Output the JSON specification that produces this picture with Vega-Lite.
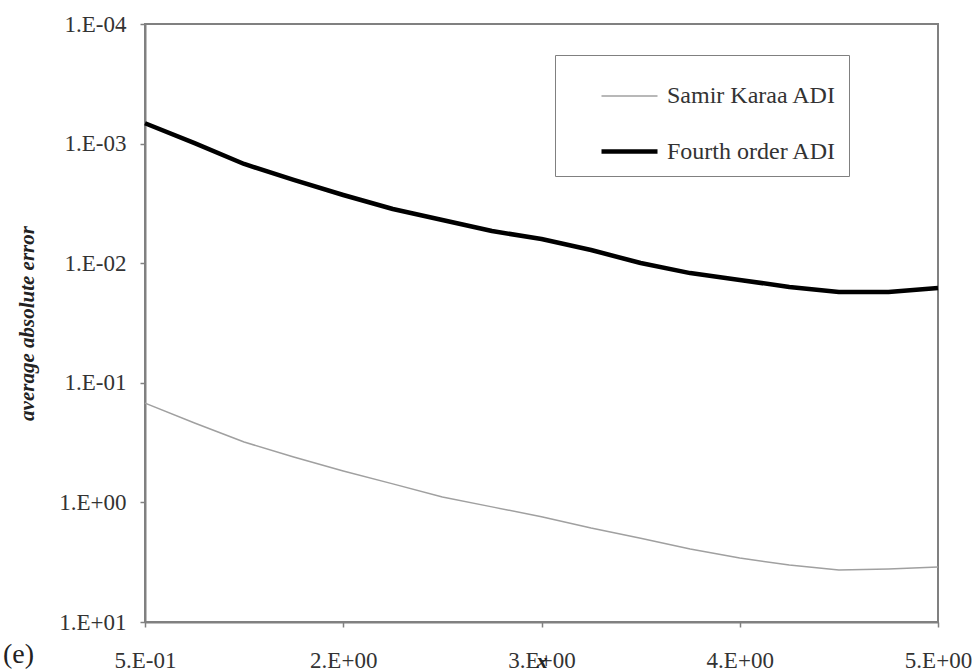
{
  "$schema": "https://vega.github.io/schema/vega-lite/v6.json",
  "width": 793,
  "height": 598,
  "autosize": {"type": "none"},
  "padding": {"left": 145, "top": 24, "right": 41, "bottom": 49},
  "background": "white",
  "title": {
    "text": "(e)",
    "orient": "bottom",
    "anchor": "start",
    "frame": "group",
    "dx": -142,
    "dy": -35,
    "font": "Times New Roman, Liberation Serif, serif",
    "fontSize": 28,
    "fontWeight": "normal",
    "color": "#222"
  },
  "config": {
    "font": "Times New Roman, Liberation Serif, serif",
    "view": {"stroke": "#808080", "strokeWidth": 2},
    "axis": {
      "domainColor": "#808080",
      "domainWidth": 2,
      "tickColor": "#808080",
      "tickSize": 5,
      "tickWidth": 1.5,
      "grid": false,
      "labelFont": "Times New Roman, Liberation Serif, serif",
      "labelFontSize": 23,
      "labelColor": "#333",
      "titleFont": "Times New Roman, Liberation Serif, serif",
      "titleColor": "#222"
    },
    "legend": {"labelFont": "Times New Roman, Liberation Serif, serif", "labelLimit": 400}
  },
  "data": {
    "values": [
      {"x": 0.5, "series": "Samir Karaa ADI", "error": 0.148},
      {"x": 0.78125, "series": "Samir Karaa ADI", "error": 0.217},
      {"x": 1.0625, "series": "Samir Karaa ADI", "error": 0.313},
      {"x": 1.34375, "series": "Samir Karaa ADI", "error": 0.417},
      {"x": 1.625, "series": "Samir Karaa ADI", "error": 0.546},
      {"x": 1.90625, "series": "Samir Karaa ADI", "error": 0.70},
      {"x": 2.1875, "series": "Samir Karaa ADI", "error": 0.90},
      {"x": 2.46875, "series": "Samir Karaa ADI", "error": 1.09},
      {"x": 2.75, "series": "Samir Karaa ADI", "error": 1.32},
      {"x": 3.03125, "series": "Samir Karaa ADI", "error": 1.64},
      {"x": 3.3125, "series": "Samir Karaa ADI", "error": 1.99},
      {"x": 3.59375, "series": "Samir Karaa ADI", "error": 2.45},
      {"x": 3.875, "series": "Samir Karaa ADI", "error": 2.92},
      {"x": 4.15625, "series": "Samir Karaa ADI", "error": 3.34},
      {"x": 4.4375, "series": "Samir Karaa ADI", "error": 3.68},
      {"x": 4.71875, "series": "Samir Karaa ADI", "error": 3.61},
      {"x": 5.0, "series": "Samir Karaa ADI", "error": 3.47},
      {"x": 0.5, "series": "Fourth order ADI", "error": 0.000676},
      {"x": 0.78125, "series": "Fourth order ADI", "error": 0.00099},
      {"x": 1.0625, "series": "Fourth order ADI", "error": 0.00148},
      {"x": 1.34375, "series": "Fourth order ADI", "error": 0.00201},
      {"x": 1.625, "series": "Fourth order ADI", "error": 0.00269},
      {"x": 1.90625, "series": "Fourth order ADI", "error": 0.00352},
      {"x": 2.1875, "series": "Fourth order ADI", "error": 0.00435},
      {"x": 2.46875, "series": "Fourth order ADI", "error": 0.00538},
      {"x": 2.75, "series": "Fourth order ADI", "error": 0.00628},
      {"x": 3.03125, "series": "Fourth order ADI", "error": 0.00776},
      {"x": 3.3125, "series": "Fourth order ADI", "error": 0.00996},
      {"x": 3.59375, "series": "Fourth order ADI", "error": 0.0121},
      {"x": 3.875, "series": "Fourth order ADI", "error": 0.0138},
      {"x": 4.15625, "series": "Fourth order ADI", "error": 0.0158},
      {"x": 4.4375, "series": "Fourth order ADI", "error": 0.0174},
      {"x": 4.71875, "series": "Fourth order ADI", "error": 0.0174},
      {"x": 5.0, "series": "Fourth order ADI", "error": 0.0161}
    ]
  },
  "mark": {"type": "line", "strokeJoin": "round", "strokeCap": "butt"},
  "encoding": {
    "x": {
      "field": "x",
      "type": "quantitative",
      "scale": {"domain": [0.5, 5], "nice": false, "zero": false},
      "axis": {
        "title": "x",
        "titleFontStyle": "italic",
        "titleFontWeight": "bold",
        "titleFontSize": 22,
        "titleBaseline": "middle",
        "titleY": 38,
        "values": [0.5, 1.625, 2.75, 3.875, 5],
        "labelExpr": "round(datum.value / pow(10, floor(log(datum.value)/LN10))) + '.E' + (datum.value < 1 ? '-0' : '+0') + abs(floor(log(datum.value)/LN10))",
        "labelPadding": 22,
        "labelOverlap": false,
        "labelFlush": false
      }
    },
    "y": {
      "field": "error",
      "type": "quantitative",
      "scale": {"type": "log", "domain": [0.0001, 10], "reverse": true, "nice": false},
      "axis": {
        "title": "average  absolute error",
        "titleFontStyle": "italic",
        "titleFontWeight": "bold",
        "titleFontSize": 21,
        "titleX": -118,
        "titleBaseline": "middle",
        "values": [0.0001, 0.001, 0.01, 0.1, 1, 10],
        "labelExpr": "'1.E' + (datum.value < 1 ? '-0' : '+0') + abs(round(log(datum.value)/LN10))",
        "labelPadding": 14
      }
    },
    "color": {
      "field": "series",
      "type": "nominal",
      "scale": {"domain": ["Samir Karaa ADI", "Fourth order ADI"], "range": ["#a0a0a0", "#000000"]},
      "legend": {
        "title": null,
        "orient": "none",
        "legendX": 410,
        "legendY": 31,
        "symbolType": "stroke",
        "symbolSize": 3136,
        "symbolOffset": 32,
        "labelOffset": 7,
        "labelFontSize": 24,
        "labelLimit": 400,
        "labelColor": "#333",
        "strokeColor": "#808080",
        "fillColor": "white",
        "padding": 12,
        "rowPadding": 13
      }
    },
    "strokeWidth": {
      "field": "series",
      "type": "nominal",
      "scale": {"domain": ["Samir Karaa ADI", "Fourth order ADI"], "range": [1.5, 4.5]}
    }
  }
}
